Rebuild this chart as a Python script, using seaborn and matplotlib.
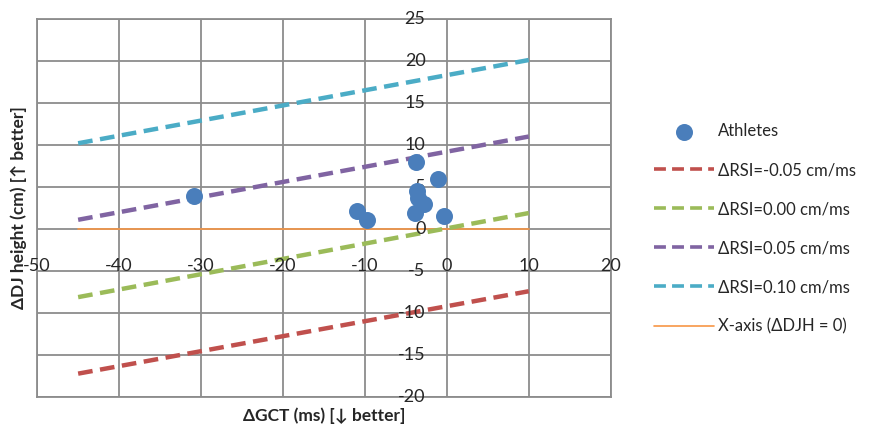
import pandas as pd
import matplotlib
matplotlib.use('Agg')
import matplotlib.pyplot as plt
import seaborn as sns

# Athletes (change in GCT, change in DJ height)
athlete_gct = [-30.8, -11.0, -9.7, -3.8, -1.1, -3.5, -3.6, -2.8, -3.9, -0.3]
athlete_djh = [3.9, 2.2, 1.1, 8.0, 5.9, 3.7, 4.5, 3.0, 1.9, 1.5]

# iso-RSI lines, read at both ends
line_gct = [-45, 10]
rsi_m005 = [-17.2, -7.4]
rsi_000 = [-8.1, 1.9]
rsi_005 = [1.1, 11.0]
rsi_010 = [10.2, 20.1]
x_axis_line = [0, 0]

line_labels = ['ΔRSI=-0.05 cm/ms', 'ΔRSI=0.00 cm/ms', 'ΔRSI=0.05 cm/ms', 'ΔRSI=0.10 cm/ms']
line_colors = ['#C0504D', '#9BBB59', '#8064A2', '#4BACC6']

x_ticks = [-50, -40, -30, -20, -10, 0, 10, 20]
y_ticks = [25, 20, 15, 10, 5, 0, -5, -10, -15, -20]

sns.set_style('white')
plt.rcParams['font.family'] = ['Lato', 'DejaVu Sans']

fig = plt.figure(figsize=(8.85, 4.28), dpi=100)
ax = fig.add_axes([0.042, 0.072, 0.648, 0.884])

sns.scatterplot(x=athlete_gct, y=athlete_djh, ax=ax, color='#4A7EBB', s=150,
                edgecolor='#4A7EBB', linewidth=0, label='Athletes', zorder=5)

for vals, lab, col in zip([rsi_m005, rsi_000, rsi_005, rsi_010], line_labels, line_colors):
    df = pd.DataFrame({'gct': line_gct, 'djh': vals})
    sns.lineplot(data=df, x='gct', y='djh', ax=ax, color=col, linewidth=3.2,
                 label=lab, zorder=3)
    ax.lines[-1].set_dashes([3.3, 1.7])

df0 = pd.DataFrame({'gct': line_gct, 'djh': x_axis_line})
sns.lineplot(data=df0, x='gct', y='djh', ax=ax, color='#F79646', linewidth=1.2,
             label='X-axis (ΔDJH = 0)', zorder=2)

ax.set_xlim(-50, 20)
ax.set_ylim(-20, 25)
ax.set_xticks(x_ticks)
ax.set_yticks(y_ticks)
ax.set_xticklabels([])
ax.set_yticklabels([])
ax.tick_params(length=0)
ax.grid(True, color='#8C8C8C', linewidth=1.3)
for sp in ax.spines.values():
    sp.set_color('#8C8C8C')
    sp.set_linewidth(1.3)

# Excel-style tick labels sitting next to the crossing axes
for xv in x_ticks:
    ax.text(xv, -4.4, str(xv), ha='center', va='center', fontsize=13, clip_on=False)
for yv in y_ticks:
    ax.text(-2.6, yv, str(yv), ha='right', va='center', fontsize=13, clip_on=False)

ax.set_xlabel('ΔGCT (ms) [↓ better]', fontsize=12.5, fontweight='bold', labelpad=4)
ax.set_ylabel('ΔDJ height (cm) [↑ better]', fontsize=12.5, fontweight='bold', labelpad=4)

leg = ax.legend(loc='center left', bbox_to_anchor=(1.05, 0.445), frameon=False, fontsize=12,
                labelspacing=1.38, handlelength=3.6, handletextpad=0.2)
for h in leg.get_lines()[:4]:
    h.set_linewidth(2.6)

fig.savefig('out.png', dpi=100)
